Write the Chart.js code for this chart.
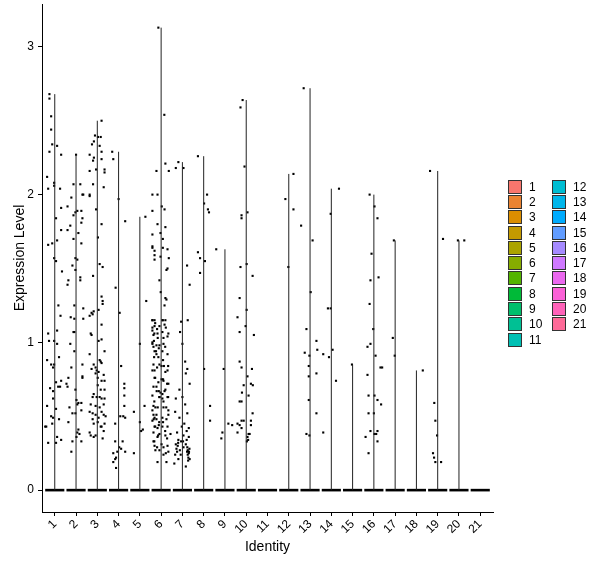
<!DOCTYPE html>
<html>
<head>
<title>Expression Level by Identity</title>
<script src="https://cdn.jsdelivr.net/npm/chart.js@4.4.0/dist/chart.umd.min.js"></script>
<style>
    body { margin: 0; background: #fff; font-family: "Liberation Sans", Arial, sans-serif; }
    #wrap { position: relative; width: 600px; height: 568px; }
    .legend { position: absolute; top: 179px; font-size: 12px; color: #000; }
    .legend .row { height: 15.3px; display: flex; align-items: center; }
    .legend .key { width: 14px; height: 14px; box-sizing: border-box; border: 1px solid #333; margin-right: 7px; }
</style>
</head>
<body>
<div id="wrap">
    <canvas id="chart" width="600" height="568"></canvas>
    <div class="legend" id="leg1" style="left:508px;"></div>
    <div class="legend" id="leg2" style="left:552px;"></div>
</div>
<script>
    // identities and their colours
    var identities = ['1','2','3','4','5','6','7','8','9','10','11','12','13','14','15','16','17','18','19','20','21'];
    var identityColors = ['#F8766D','#EA8331','#DB8E00','#C49A00','#ABA300','#86AC00','#53B400','#00BA38','#00BE6C','#00C094',
        '#00C0B4','#00BDD2','#00B6EB','#00ABFD','#619CFF','#A58AFF','#CF78FF','#EB68EF','#FB61D7','#FF63B9','#FF6A98'];
    var yTicks = [0, 1, 2, 3];

    // cells with non-zero expression, as [jitter, expression level]
    var id1 = [[-0.25,2.68],[-0.25,2.65],[-0.17,2.53],[-0.17,2.44],[-0.12,2.34],[0.11,2.33],[-0.25,2.29],[0.30,2.27],[-0.36,2.12],[-0.03,2.08],[-0.03,2.06],[-0.31,2.04],[0.25,2.04],[0.30,1.91],[0.06,1.84],[0.30,1.76],[0.11,1.69],[-0.12,1.67],[-0.31,1.66],[-0.03,1.57],[0.06,1.55],[0.34,1.48],[0.27,1.18],[0.17,1.25],[-0.31,1.06],[0.11,1.08],[-0.03,1.01],[-0.27,1.01],[0.11,0.99],[-0.36,0.88],[-0.17,0.85],[-0.03,0.85],[-0.08,0.83],[0.20,0.90],[0.06,0.73],[0.30,0.74],[0.25,0.70],[-0.22,0.69],[-0.08,0.67],[0.16,0.70],[-0.08,0.62],[-0.36,0.57],[0.06,0.55],[-0.17,0.50],[-0.08,0.49],[0.20,0.48],[-0.45,0.43],[-0.40,0.43],[-0.12,0.45],[0.11,0.36],[-0.31,0.32],[0.06,0.32],[0.30,0.34]];
    var id2 = [[0.0,2.27],[-0.12,2.07],[0.20,2.07],[0.30,2.0],[0.34,2.0],[-0.22,1.98],[-0.40,1.92],[0.06,1.89],[-0.03,1.88],[0.25,1.89],[-0.12,1.86],[0.30,1.84],[0.25,1.81],[-0.27,1.79],[-0.40,1.76],[0.11,1.74],[-0.12,1.70],[0.25,1.67],[-0.03,1.57],[0.06,1.56],[-0.17,1.52],[-0.03,1.49],[0.20,1.42],[-0.40,1.39],[-0.36,1.42],[0.20,1.44],[-0.08,1.25],[0.34,1.23],[-0.25,1.17],[-0.08,1.16],[0.34,1.16],[-0.12,1.07],[-0.08,1.07],[-0.27,0.99],[-0.08,0.94],[0.30,0.85],[-0.22,0.83],[0.30,0.77],[0.30,0.76],[-0.36,0.76],[-0.40,0.70],[-0.03,0.68],[-0.45,0.72],[0.02,0.61],[0.11,0.59],[0.25,0.59],[0.25,0.54],[0.06,0.58],[-0.31,0.56],[-0.17,0.52],[-0.03,0.52],[-0.36,0.46],[0.11,0.41],[0.06,0.39],[0.16,0.38],[0.25,0.33],[-0.17,0.33],[-0.22,0.26],[0.02,0.36]];
    var id3 = [[0.20,2.50],[-0.11,2.40],[0.03,2.39],[0.16,2.39],[-0.16,2.36],[-0.25,2.34],[0.11,2.33],[0.20,2.29],[-0.36,2.27],[-0.16,2.25],[-0.20,2.23],[0.20,2.24],[-0.36,2.16],[-0.06,2.17],[0.34,2.17],[0.34,2.15],[-0.20,2.07],[0.30,2.05],[-0.36,2.0],[-0.36,1.99],[-0.06,1.90],[0.20,1.80],[0.03,1.71],[0.11,1.53],[0.25,1.51],[-0.20,1.45],[0.20,1.31],[0.25,1.28],[0.25,1.26],[0.06,1.22],[-0.27,1.20],[-0.22,1.19],[-0.17,1.21],[-0.36,1.18],[0.20,1.12],[0.06,1.01],[-0.31,1.06],[-0.27,1.05],[0.20,1.02],[-0.36,0.92],[0.34,0.94],[0.11,0.88],[0.16,0.87],[0.20,0.86],[-0.17,0.85],[-0.08,0.83],[-0.03,0.81],[0.06,0.80],[-0.27,0.82],[-0.08,0.79],[0.30,0.78],[0.02,0.76],[0.20,0.74],[0.34,0.74],[0.16,0.68],[0.34,0.68],[0.02,0.71],[-0.17,0.65],[-0.22,0.63],[-0.03,0.63],[0.11,0.63],[0.20,0.62],[0.34,0.62],[-0.31,0.58],[-0.08,0.57],[0.11,0.56],[0.30,0.58],[-0.36,0.53],[-0.22,0.52],[-0.08,0.51],[0.20,0.53],[0.06,0.49],[0.30,0.51],[-0.22,0.48],[0.02,0.46],[-0.17,0.45],[0.16,0.43],[0.20,0.43],[-0.36,0.39],[-0.31,0.37],[-0.08,0.37],[-0.17,0.36],[0.30,0.40],[0.34,0.45],[0.39,0.50],[0.25,0.35]];
    var id4 = [[-0.30,2.29],[-0.25,2.24],[0.0,1.97],[0.31,1.82],[-0.14,1.37],[0.05,1.20],[0.12,0.84],[0.27,0.72],[0.27,0.69],[0.27,0.64],[0.27,0.57],[0.08,0.50],[0.22,0.50],[0.31,0.49],[-0.16,0.45],[0.03,0.29],[0.12,0.28],[-0.06,0.26],[-0.25,0.25],[-0.12,0.22],[-0.25,0.19],[-0.16,0.21],[0.31,0.26],[-0.16,0.33],[0.19,0.33],[-0.12,0.15]];
    var id5 = [[0.26,1.85],[0.30,1.28],[0.0,0.99],[0.22,0.57],[-0.28,0.53],[0.0,0.46],[0.14,0.41],[0.06,0.40],[-0.28,0.25]];
    var id6 = [[-0.13,3.13],[0.15,2.54],[-0.22,2.16],[0.20,2.21],[0.36,2.16],[-0.41,2.0],[-0.17,2.0],[0.03,1.92],[0.16,1.90],[-0.41,1.89],[-0.17,1.80],[-0.41,1.73],[-0.03,1.74],[0.20,1.78],[0.08,1.70],[0.08,1.64],[-0.41,1.64],[-0.31,1.62],[0.30,1.63],[-0.31,1.59],[-0.03,1.58],[-0.31,1.56],[0.36,1.57],[0.30,1.50],[0.25,1.49],[-0.08,1.42],[-0.02,1.34],[0.20,1.30],[0.25,1.29],[0.16,1.25],[-0.41,1.15],[-0.31,1.15],[0.06,1.15],[0.20,1.15],[0.16,1.12],[-0.08,1.11],[-0.31,1.11],[-0.41,1.08],[-0.36,1.05],[-0.17,1.06],[0.06,1.07],[0.30,1.04],[-0.34,1.01],[-0.41,0.99],[-0.22,0.98],[-0.08,0.98],[0.11,0.99],[-0.31,0.94],[-0.22,0.92],[0.06,0.94],[-0.11,0.96],[-0.08,0.85],[0.02,0.84],[0.13,0.84],[-0.31,0.81],[0.30,0.81],[-0.31,0.76],[0.02,0.75],[0.11,0.74],[0.34,0.72],[-0.22,0.70],[-0.11,0.67],[-0.03,0.66],[0.06,0.65],[0.20,0.68],[-0.08,0.63],[0.06,0.62],[0.30,0.63],[-0.27,0.56],[-0.36,0.57],[0.11,0.56],[0.34,0.54],[-0.36,0.51],[-0.31,0.49],[-0.22,0.48],[-0.41,0.47],[0.06,0.49],[0.25,0.48],[-0.11,0.44],[-0.31,0.43],[-0.17,0.42],[0.06,0.43],[0.30,0.43],[-0.08,0.38],[-0.17,0.36],[0.20,0.37],[0.44,0.38],[-0.31,0.30],[0.02,0.31],[0.30,0.30],[-0.08,0.27],[0.34,0.26],[0.11,0.24],[0.25,0.19],[-0.17,0.19],[-0.27,0.27],[-0.36,0.33],[-0.41,1.65],
        [-0.41,1.15],[-0.28,1.13],[-0.41,1.10],[-0.19,1.09],[-0.32,1.06],[-0.41,1.0],[-0.16,1.03],[-0.36,0.97],[-0.24,0.94],[-0.33,0.90],[-0.13,0.90],[-0.36,0.85],[-0.19,0.83],[-0.41,0.81],[-0.28,0.76],[-0.13,0.73],[-0.36,0.70],[-0.21,0.67],[-0.41,0.64],[-0.08,0.63],[-0.32,0.60],[-0.16,0.56],[-0.41,0.54],[-0.22,0.51],[-0.35,0.48],[-0.09,0.46],[-0.28,0.43],[-0.36,0.39],[-0.14,0.37],[-0.32,0.33],[-0.19,0.29],[0.08,1.15],[0.22,1.10],[0.11,1.03],[0.34,1.06],[0.19,0.97],[0.30,0.92],[0.09,0.88],[0.33,0.84],[0.20,0.80],[0.09,0.75],[0.28,0.72],[0.16,0.67],[0.33,0.63],[0.11,0.60],[0.24,0.56],[0.34,0.51],[0.09,0.46],[0.19,0.40],[0.28,0.35],[0.11,0.29],[0.22,0.25]];
    var id7 = [[-0.19,2.22],[0.05,2.18],[-0.31,2.18],[0.34,1.39],[0.22,1.52],[-0.06,1.14],[0.25,1.15],[-0.11,1.07],[0.0,0.99],[0.13,0.87],[0.23,0.82],[0.16,0.79],[0.34,0.72],[-0.14,0.68],[0.0,0.63],[-0.31,0.62],[0.13,0.58],[0.23,0.52],[-0.34,0.53],[-0.14,0.49],[0.09,0.45],[-0.03,0.43],[0.30,0.42],[0.20,0.40],[-0.25,0.39],[0.05,0.37],[-0.19,0.34],[-0.06,0.33],[0.16,0.31],[-0.31,0.31],[0.23,0.29],[0.31,0.26],[0.05,0.29],[-0.12,0.27],[-0.34,0.24],[-0.19,0.21],[0.27,0.20],[-0.38,0.18],[0.16,0.16],[-0.08,0.24],[0.25,0.24],[0.34,0.21],[-0.28,0.28],[0.03,0.33],[0.25,0.27],[0.30,0.25],[0.28,0.22],[0.22,0.26],[0.33,0.28],[-0.22,0.30],[-0.25,0.26],[-0.20,0.32],[0.20,0.34],[0.30,0.36]];
    var id8 = [[-0.27,2.26],[0.16,2.0],[0.02,1.94],[0.20,1.90],[0.25,1.88],[-0.27,1.61],[-0.17,1.57],[0.06,1.55],[-0.17,1.47],[0.02,0.82],[0.30,0.57],[0.30,0.47]];
    var id9 = [[-0.41,1.63],[-0.06,0.82],[0.16,0.45],[0.34,0.44],[-0.12,0.39],[-0.17,0.35]];
    var id10 = [[-0.17,2.64],[-0.27,2.59],[-0.08,2.19],[0.06,1.88],[-0.22,1.86],[-0.22,1.84],[0.02,1.53],[-0.27,1.51],[0.30,1.45],[-0.31,1.30],[0.02,1.22],[-0.41,1.17],[-0.03,1.11],[-0.31,1.07],[0.36,1.05],[-0.31,0.87],[-0.22,0.83],[0.27,0.82],[0.06,0.77],[-0.12,0.71],[0.22,0.72],[0.31,0.71],[-0.20,0.66],[0.11,0.64],[-0.31,0.60],[-0.22,0.60],[0.30,0.52],[-0.12,0.47],[0.22,0.47],[-0.22,0.47],[-0.41,0.45],[-0.31,0.44],[0.22,0.44],[-0.22,0.42],[-0.41,0.39],[0.06,0.36],[0.16,0.38],[0.03,0.33],[0.09,0.34],[0.11,0.38]];
    var id11 = [];
    var id12 = [[0.22,2.14],[-0.16,1.97],[0.22,1.90],[-0.02,1.51]];
    var id13 = [[-0.30,2.72],[-0.42,1.79],[0.12,1.69],[0.03,1.34],[-0.17,1.09],[0.30,1.01],[0.34,0.95],[-0.25,0.93],[-0.03,0.91],[-0.06,0.84],[-0.06,0.77],[0.30,0.79],[-0.06,0.61],[0.30,0.52],[-0.17,0.38],[-0.03,0.37]];
    var id14 = [[0.36,2.04],[-0.03,1.87],[-0.16,1.23],[-0.03,1.23],[0.06,0.95],[-0.11,0.90],[0.22,0.74],[-0.38,0.92],[-0.38,0.39]];
    var id15 = [[-0.03,0.85]];
    var id16 = [[-0.20,2.0],[0.03,1.92],[0.17,1.84],[-0.11,1.60],[0.22,1.44],[-0.16,1.42],[-0.20,1.26],[-0.03,1.09],[-0.16,0.99],[-0.30,0.97],[0.08,0.91],[0.31,0.83],[0.39,0.83],[-0.30,0.78],[-0.25,0.64],[0.03,0.64],[0.17,0.61],[0.34,0.58],[-0.25,0.52],[0.0,0.52],[-0.16,0.40],[0.17,0.40],[-0.39,0.36],[0.03,0.38],[0.11,0.38],[0.17,0.33],[-0.25,0.25]];
    var id17 = [[-0.06,1.69],[-0.11,1.03],[-0.02,0.91]];
    var id18 = [[0.30,0.81]];
    var id19 = [[-0.36,2.16],[0.25,1.70],[-0.16,0.59],[-0.11,0.47],[-0.03,0.37],[-0.22,0.25],[-0.17,0.22],[-0.11,0.19],[0.16,0.19]];
    var id20 = [[-0.05,1.69],[0.25,1.69]];
    var id21 = [];

    var cells = [id1, id2, id3, id4, id5, id6, id7, id8, id9, id10, id11, id12, id13, id14, id15, id16, id17, id18, id19, id20, id21];

    var datasets = [];
    var points = [];
    cells.forEach(function(list, i) {
        var pos = i + 1;
        var top = 0;
        list.forEach(function(p) {
            points.push({ x: pos + p[0], y: p[1] });
            if (p[1] > top) top = p[1];
        });
        // violin: almost all cells are zero, so it collapses to a stem and a flat base
        if (top > 0) {
            datasets.push({
                type: 'line',
                data: [{ x: pos, y: 0 }, { x: pos, y: top }],
                borderColor: '#222',
                borderWidth: 1,
                pointRadius: 0,
                fill: false
            });
        }
        datasets.push({
            type: 'line',
            data: [{ x: pos - 0.45, y: 0 }, { x: pos + 0.45, y: 0 }],
            borderColor: '#000',
            borderWidth: 2.6,
            pointRadius: 0,
            fill: false
        });
    });
    datasets.push({
        type: 'scatter',
        data: points,
        pointStyle: 'rect',
        pointRadius: 1.5,
        pointBorderWidth: 0,
        backgroundColor: '#000',
        borderColor: '#000'
    });

    var tickFont = { family: '"Liberation Sans", Arial, sans-serif', size: 12 };
    var titleFont = { family: '"Liberation Sans", Arial, sans-serif', size: 14 };

    new Chart(document.getElementById('chart').getContext('2d'), {
        type: 'scatter',
        data: { datasets: datasets },
        options: {
            responsive: false,
            animation: false,
            devicePixelRatio: 1,
            layout: { padding: { top: 3, right: 107, bottom: 0, left: 0 } },
            plugins: { legend: { display: false }, tooltip: { enabled: false } },
            scales: {
                x: {
                    type: 'linear',
                    min: 0.4,
                    max: 21.6,
                    afterBuildTicks: function(scale) {
                        scale.ticks = identities.map(function(_, i) { return { value: i + 1 }; });
                    },
                    afterFit: function(scale) {
                        scale.height = 56;
                        scale.paddingLeft = 0;
                        scale.paddingRight = 0;
                    },
                    ticks: {
                        autoSkip: false,
                        minRotation: 45,
                        maxRotation: 45,
                        padding: 1,
                        color: '#000',
                        font: tickFont,
                        callback: function(v) { return identities[v - 1]; }
                    },
                    grid: { drawOnChartArea: false, drawTicks: true, tickLength: 4, color: '#000' },
                    border: { display: true, color: '#000', width: 1 },
                    title: { display: true, text: 'Identity', color: '#000', font: titleFont, padding: { top: 0, bottom: 12 } }
                },
                y: {
                    min: -0.148,
                    max: 3.29,
                    afterBuildTicks: function(scale) {
                        scale.ticks = yTicks.map(function(v) { return { value: v }; });
                    },
                    afterFit: function(scale) {
                        scale.width = 42;
                        scale.paddingTop = 0;
                        scale.paddingBottom = 0;
                    },
                    ticks: { padding: 4, color: '#000', font: tickFont },
                    grid: { drawOnChartArea: false, drawTicks: true, tickLength: 4, color: '#000' },
                    border: { display: true, color: '#000', width: 1 },
                    title: { display: true, text: 'Expression Level', color: '#000', font: titleFont, padding: { top: 12, bottom: 0 } }
                }
            }
        }
    });

    // legend in two columns like the original
    function addLegendRow(col, i) {
        var row = document.createElement('div');
        row.className = 'row';
        var key = document.createElement('div');
        key.className = 'key';
        key.style.background = identityColors[i];
        var label = document.createElement('span');
        label.textContent = identities[i];
        row.appendChild(key);
        row.appendChild(label);
        document.getElementById(col).appendChild(row);
    }
    for (var i = 0; i < identities.length; i++) {
        addLegendRow(i < 11 ? 'leg1' : 'leg2', i);
    }
</script>
</body>
</html>
